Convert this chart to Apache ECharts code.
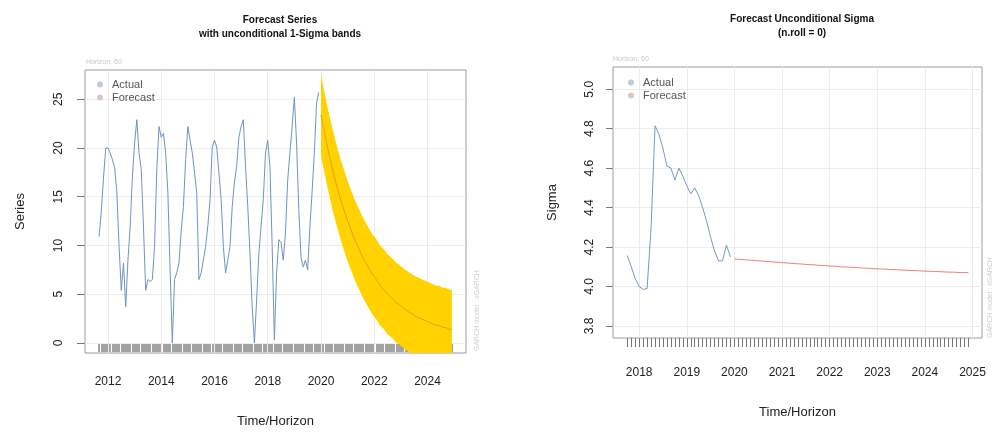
<!DOCTYPE html>
<html><head><meta charset="utf-8">
<script src="https://cdn.jsdelivr.net/npm/echarts@6/dist/echarts.min.js"></script>
<style>html,body{margin:0;padding:0;background:#fff}#c{width:994px;height:439px}</style>
</head><body><div id="c"></div>
<script>
// ---------- data ----------
const actualStart = [2011, 9];           // first monthly observation (year, month)
const actualSeries = [
  10.9,13.5,17.0,20.0,20.0,19.5,18.8,18.0,15.5,9.9,
  5.4,8.2,3.7,8.5,11.9,17.0,20.5,22.9,19.5,17.8,
  11.9,5.4,6.5,6.3,6.5,9.9,17.8,22.2,21.1,21.5,
  19.5,15.4,7.5,0.0,6.5,7.2,8.2,11.5,14.0,18.8,
  22.2,20.8,19.5,17.5,15.4,6.5,7.2,8.5,9.9,12.0,
  14.7,20.1,20.8,20.1,17.5,14.7,9.9,7.2,8.5,9.9,
  14.0,16.5,18.1,21.1,22.2,22.9,18.1,14.0,9.2,3.7,
  0.0,4.4,9.2,12.0,14.7,19.5,20.8,18.1,9.9,0.3,
  7.2,10.6,10.3,8.5,11.3,16.7,19.5,22.2,25.2,20.5,
  13.7,8.8,7.8,8.5,7.5,11.9,15.5,19.5,24.6,25.7
];
const forecastStart = [2020, 1];
const forecastMean = [
  23.4,22.2,21.1,20.0,19.0,18.0,17.1,16.2,15.4,14.6,
  13.9,13.2,12.5,11.9,11.3,10.7,10.2,9.7,9.2,8.7,
  8.3,7.9,7.5,7.1,6.8,6.5,6.1,5.8,5.6,5.3,
  5.0,4.8,4.6,4.4,4.1,4.0,3.8,3.6,3.4,3.3,
  3.1,3.0,2.8,2.7,2.6,2.5,2.4,2.3,2.2,2.1,
  2.0,1.9,1.8,1.8,1.7,1.6,1.6,1.5,1.4,1.4
];
const forecastSigma = [
  4.140,4.138,4.137,4.135,4.134,4.132,4.130,4.129,4.127,4.126,
  4.124,4.123,4.121,4.120,4.118,4.117,4.115,4.114,4.112,4.111,
  4.110,4.108,4.107,4.106,4.104,4.103,4.102,4.100,4.099,4.098,
  4.097,4.096,4.094,4.093,4.092,4.091,4.090,4.089,4.088,4.087,
  4.086,4.085,4.084,4.083,4.082,4.081,4.080,4.079,4.078,4.077,
  4.077,4.076,4.075,4.074,4.073,4.073,4.072,4.071,4.071,4.070
];
const sigmaActualStart = [2017, 10];
const sigmaActual = [
  4.157,4.10,4.04,4.00,3.985,3.99,4.30,4.815,4.77,4.70,
  4.61,4.60,4.54,4.60,4.56,4.51,4.47,4.50,4.46,4.40,
  4.33,4.25,4.18,4.13,4.13,4.21,4.15
];
const seriesYTicks = [0,5,10,15,20,25];
const seriesXLabels = [2012,2014,2016,2018,2020,2022,2024];
const sigmaYTicks = [3.8,4.0,4.2,4.4,4.6,4.8,5.0];
const sigmaXLabels = [2018,2019,2020,2021,2022,2023,2024,2025];

// ---------- helpers ----------
function monthX(start, i) { return start[0] + (start[1] - 1 + i) / 12; }
function toPairs(start, arr) { return arr.map((v, i) => [monthX(start, i), v]); }
function monthRange(start, n) { const r = []; for (let i = 0; i < n; i++) r.push(monthX(start, i)); return r; }

const FONT = '"Liberation Sans", Arial, Helvetica, sans-serif';
const actualPairs = toPairs(actualStart, actualSeries);
const meanPairs = toPairs(forecastStart, forecastMean);
const fx = forecastMean.map((v, i) => monthX(forecastStart, i));
const upper = forecastMean.map((v, i) => v + forecastSigma[i]);
const lower = forecastMean.map((v, i) => v - forecastSigma[i]);
const sigmaActualPairs = toPairs(sigmaActualStart, sigmaActual);
const sigmaForecastPairs = toPairs(forecastStart, forecastSigma);
const leftMonthTicks = monthRange(actualStart, actualSeries.length + forecastMean.length);
const rightMonthTicks = monthRange(sigmaActualStart, sigmaActual.length + forecastSigma.length);

const gridLineStyle = { color: '#ececec', width: 1, type: 'solid' };
function gridMarks(xs, ys) {
  return {
    silent: true, symbol: ['none', 'none'], animation: false, z: 1,
    label: { show: false }, lineStyle: gridLineStyle, emphasis: { disabled: true },
    data: xs.map(v => ({ xAxis: v })).concat(ys.map(v => ({ yAxis: v })))
  };
}

const chart = echarts.init(document.getElementById('c'), null, { renderer: 'canvas' });
chart.setOption({
  animation: false,
  backgroundColor: '#ffffff',
  textStyle: { fontFamily: FONT },
  title: [
    { text: 'Forecast Series\nwith unconditional 1-Sigma bands', left: 275, top: 8, textAlign: 'center',
      textStyle: { fontSize: 10, fontWeight: 'bold', lineHeight: 14, color: '#111', fontFamily: FONT } },
    { text: 'Forecast Unconditional Sigma\n(n.roll = 0)', left: 797, top: 7, textAlign: 'center',
      textStyle: { fontSize: 10, fontWeight: 'bold', lineHeight: 14, color: '#111', fontFamily: FONT } }
  ],
  legend: [
    { left: 92, top: 74, orient: 'vertical', icon: 'circle', itemWidth: 6, itemHeight: 6, itemGap: 2,
      textStyle: { fontSize: 11, color: '#555', padding: [0, 0, 0, 4] },
      data: [{ name: 'Actual', itemStyle: { color: '#c0cad8' } }, { name: 'Forecast', itemStyle: { color: '#d8c8c4' } }] },
    { left: 623, top: 72, orient: 'vertical', icon: 'circle', itemWidth: 6, itemHeight: 6, itemGap: 2,
      textStyle: { fontSize: 11, color: '#555', padding: [0, 0, 0, 4] },
      data: [{ name: 'Actual', itemStyle: { color: '#c0cad8' } }, { name: 'Forecast', itemStyle: { color: '#d8c8c4' } }] }
  ],
  grid: [
    { left: 85, top: 70, width: 381, height: 283, show: true, borderColor: '#9a9a9a', borderWidth: 1, backgroundColor: 'transparent' },
    { left: 613, top: 67, width: 369, height: 271, show: true, borderColor: '#9a9a9a', borderWidth: 1, backgroundColor: 'transparent' }
  ],
  xAxis: [
    { gridIndex: 0, type: 'value', min: 2011.137, max: 2025.447,
      name: 'Time/Horizon', nameLocation: 'middle', nameGap: 62, nameTextStyle: { fontSize: 13, color: '#222' },
      axisLine: { show: false }, splitLine: { show: false },
      axisTick: { show: true, customValues: leftMonthTicks, length: 9, lineStyle: { color: '#a2a2a2', width: 2 } },
      axisLabel: { customValues: seriesXLabels, margin: 23, fontSize: 12, color: '#222', formatter: v => String(Math.round(v)) } },
    { gridIndex: 1, type: 'value', min: 2017.45, max: 2025.2,
      name: 'Time/Horizon', nameLocation: 'middle', nameGap: 68, nameTextStyle: { fontSize: 13, color: '#222' },
      axisLine: { show: false }, splitLine: { show: false },
      axisTick: { show: true, customValues: rightMonthTicks, length: 9, lineStyle: { color: '#777', width: 1 } },
      axisLabel: { customValues: sigmaXLabels, margin: 29, fontSize: 12, color: '#222', formatter: v => String(Math.round(v)) } }
  ],
  yAxis: [
    { gridIndex: 0, type: 'value', min: -1.03, max: 28.0,
      name: 'Series', nameLocation: 'middle', nameGap: 58, nameTextStyle: { fontSize: 13, color: '#222' },
      axisLine: { show: false }, splitLine: { show: false },
      axisTick: { show: true, customValues: seriesYTicks, length: 8, lineStyle: { color: '#777' } },
      axisLabel: { customValues: seriesYTicks, rotate: 90, margin: 20, fontSize: 12, color: '#222', formatter: v => String(v) } },
    { gridIndex: 1, type: 'value', min: 3.739, max: 5.113,
      name: 'Sigma', nameLocation: 'middle', nameGap: 54, nameTextStyle: { fontSize: 13, color: '#222' },
      axisLine: { show: false }, splitLine: { show: false },
      axisTick: { show: true, customValues: sigmaYTicks, length: 7, lineStyle: { color: '#777' } },
      axisLabel: { customValues: sigmaYTicks, rotate: 90, margin: 17, fontSize: 12, color: '#222', formatter: v => v.toFixed(1) } }
  ],
  series: [
    { name: 'Actual', type: 'line', xAxisIndex: 0, yAxisIndex: 0, data: actualPairs,
      showSymbol: false, symbol: 'none', lineStyle: { color: '#6f93c2', width: 1 }, itemStyle: { color: '#6f93c2' },
      markLine: gridMarks(seriesXLabels, seriesYTicks), z: 2 },
    { name: 'Band', type: 'custom', xAxisIndex: 0, yAxisIndex: 0, clip: true, z: 3,
      data: [[fx[0], upper[0]]],
      renderItem: function (params, api) {
        if (params.dataIndex !== 0) return;
        const cs = params.coordSys;
        const clamp = p => [p[0], Math.max(cs.y, Math.min(cs.y + cs.height, p[1]))];
        const pts = [];
        for (let i = 0; i < fx.length; i++) pts.push(clamp(api.coord([fx[i], upper[i]])));
        for (let i = fx.length - 1; i >= 0; i--) pts.push(clamp(api.coord([fx[i], lower[i]])));
        return { type: 'polygon', shape: { points: pts }, style: { fill: '#FFD200', stroke: null } };
      } },
    { name: 'Forecast', type: 'line', xAxisIndex: 0, yAxisIndex: 0, data: meanPairs, z: 4,
      showSymbol: false, symbol: 'none', lineStyle: { color: '#f39a1e', width: 1 }, itemStyle: { color: '#f39a1e' } },
    { name: 'Actual', type: 'line', xAxisIndex: 1, yAxisIndex: 1, data: sigmaActualPairs,
      showSymbol: false, symbol: 'none', lineStyle: { color: '#7898c4', width: 1 }, itemStyle: { color: '#7898c4' },
      markLine: gridMarks(sigmaXLabels, sigmaYTicks), z: 2 },
    { name: 'Forecast', type: 'line', xAxisIndex: 1, yAxisIndex: 1, data: sigmaForecastPairs,
      showSymbol: false, symbol: 'none', lineStyle: { color: '#ec7f72', width: 1 }, itemStyle: { color: '#ec7f72' }, z: 3 }
  ],
  graphic: [
    { type: 'text', left: 86, top: 59, style: { text: 'Horizon: 60', fontSize: 7, fill: '#c8c8c8', fontFamily: FONT } },
    { type: 'text', left: 613, top: 56, style: { text: 'Horizon: 60', fontSize: 7, fill: '#c8c8c8', fontFamily: FONT } },
    { type: 'text', x: 477, y: 351, rotation: Math.PI / 2, style: { text: 'GARCH model : sGARCH', fontSize: 7, fill: '#d0d0d0', fontFamily: FONT, align: 'left', verticalAlign: 'middle' } },
    { type: 'text', x: 990, y: 338, rotation: Math.PI / 2, style: { text: 'GARCH model : sGARCH', fontSize: 7, fill: '#d0d0d0', fontFamily: FONT, align: 'left', verticalAlign: 'middle' } }
  ]
});
</script></body></html>
